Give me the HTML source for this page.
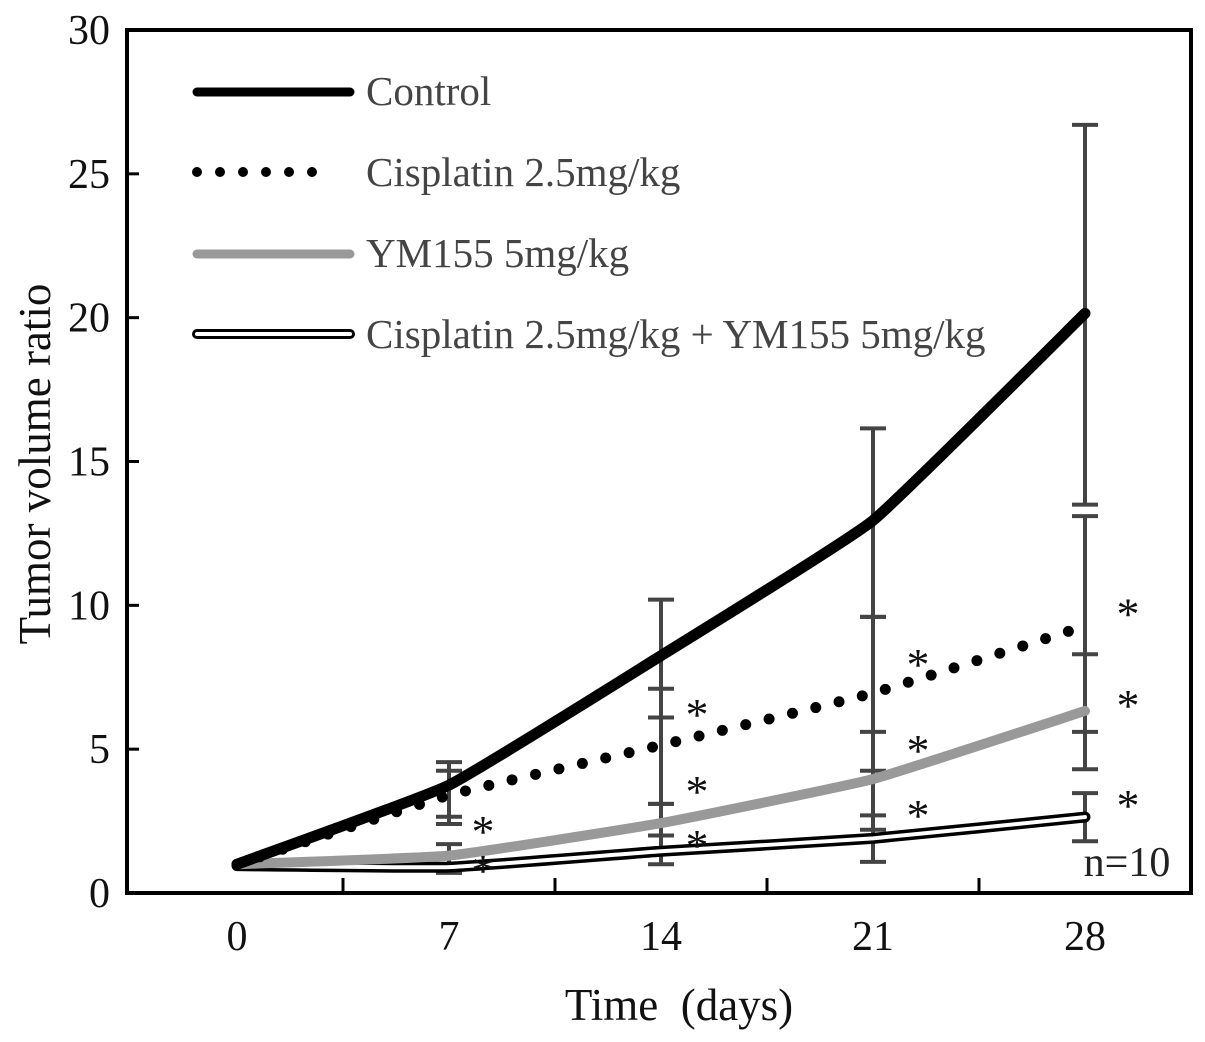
<!DOCTYPE html>
<html><head><meta charset="utf-8"><style>
body{margin:0;background:#fff}
svg{display:block;font-family:"Liberation Serif",serif}
</style></head><body>
<svg id="chart" width="1205" height="1042" viewBox="0 0 1205 1042">
<rect x="127" y="30" width="1064" height="863" fill="none" stroke="#000" stroke-width="4"/>
<g id="axes"></g>
<g id="series"></g>
<g id="legend">
 <line x1="197" y1="92" x2="350" y2="92" stroke="#000" stroke-width="9" stroke-linecap="round"/>
 <text x="366" y="105" font-size="41" fill="#444">Control</text>
 <line x1="197" y1="172" x2="335" y2="172" stroke="#000" stroke-width="10" stroke-linecap="round" stroke-dasharray="0 23"/>
 <text x="366" y="186" font-size="41" fill="#444">Cisplatin 2.5mg/kg</text>
 <line x1="197" y1="254" x2="350" y2="254" stroke="#999" stroke-width="9" stroke-linecap="round"/>
 <text x="366" y="267" font-size="41" fill="#444">YM155 5mg/kg</text>
 <line x1="197" y1="334" x2="350" y2="334" stroke="#000" stroke-width="10" stroke-linecap="round"/>
 <line x1="197" y1="334" x2="350" y2="334" stroke="#fff" stroke-width="4" stroke-linecap="round"/>
 <text x="366" y="348" font-size="41" fill="#444">Cisplatin 2.5mg/kg + YM155 5mg/kg</text>
</g>
<text x="1127" y="876" text-anchor="middle" font-size="42" fill="#222">n=10</text>
<text transform="translate(50,464) rotate(-90)" text-anchor="middle" font-size="45" fill="#111">Tumor volume ratio</text>
<text x="679" y="1020" text-anchor="middle" font-size="45" fill="#111" xml:space="preserve">Time  (days)</text>
</svg>
<script>
const days=[0,7,14,21,28];
const yTicks=[0,5,10,15,20,25,30];
const control=[1,3.75,8.25,12.95,20.15];
const controlHi=[1,4.55,10.2,16.15,26.7];
const controlLo=[1,2.65,6.1,9.6,13.5];
const cis=[1,3.4,5.14,6.95,9.28];
const cisHi=[1,4.25,7.1,9.6,13.1];
const cisLo=[1,2.4,3.1,4.25,5.6];
const ym=[1,1.3,2.43,3.96,6.33];
const ymHi=[1,1.7,3.1,5.6,8.3];
const ymLo=[1,0.9,1.5,2.2,4.3];
const combo=[0.95,0.9,1.45,1.9,2.64];
const comboHi=[0.95,0.9,2.0,2.7,3.47];
const comboLo=[0.95,0.7,1.0,1.08,1.8];
const starsCis=[null,null,6.5,8.24,10.0];
const starsYm=[null,2.43,3.82,5.25,6.81];
const starsCombo=[null,1.08,1.95,2.99,3.34];
const NS="http://www.w3.org/2000/svg";
const xS=d=>237+(d/7)*212;
const yS=v=>893-v*(863/30);
function mk(t,a,p){const e=document.createElementNS(NS,t);for(const k in a)e.setAttribute(k,a[k]);(p||document.getElementById('series')).appendChild(e);return e;}
const ax=document.getElementById('axes');
yTicks.forEach(v=>{
 const l=mk('line',{x1:127,x2:139,y1:yS(v),y2:yS(v),stroke:'#000','stroke-width':3},ax);
 
 
 const t=mk('text',{x:110,y:yS(v)+14,'text-anchor':'end','font-size':42,fill:'#111'},ax);
 t.textContent=v;
 
 
});
days.forEach((d,i)=>{
 const t=mk('text',{x:xS(d),y:950,'text-anchor':'middle','font-size':42,fill:'#111'},ax);
 t.textContent=d;
 
 
 if(i<days.length-1){
  const l=mk('line',{x1:xS(d+3.5),x2:xS(d+3.5),y1:893,y2:878,stroke:'#000','stroke-width':3},ax);
  
  
 }
});
function path(vals){
 const p=vals.map((v,i)=>[xS(days[i]),yS(v)]);
 let d=`M${p[0][0]},${p[0][1]}`;
 for(let i=0;i<p.length-1;i++){
  const p0=p[i-1]||p[i],p1=p[i],p2=p[i+1],p3=p[i+2]||p2;const k=0.06;
  d+=` C${p1[0]+(p2[0]-p0[0])*k},${p1[1]+(p2[1]-p0[1])*k} ${p2[0]-(p3[0]-p1[0])*k},${p2[1]-(p3[1]-p1[1])*k} ${p2[0]},${p2[1]}`;
 }
 return d;
}
function errs(hi,lo,name){
 days.forEach((d,i)=>{if(i===0)return;const x=xS(d);
  const l=mk('line',{x1:x,x2:x,y1:yS(hi[i]),y2:yS(lo[i]),stroke:'#444','stroke-width':4});
  
  
  [hi[i],lo[i]].forEach(v=>{const c=mk('line',{x1:x-13,x2:x+13,y1:yS(v),y2:yS(v),stroke:'#444','stroke-width':4});
   
   });
 });
}
errs(controlHi,controlLo,'control');errs(cisHi,cisLo,'cisplatin');errs(ymHi,ymLo,'ym155');errs(comboHi,comboLo,'combo');
let e=mk('path',{d:path(combo),fill:'none',stroke:'#000','stroke-width':11,'stroke-linecap':'round'});


e=mk('path',{d:path(combo),fill:'none',stroke:'#fff','stroke-width':4,'stroke-linecap':'round'});


e=mk('path',{d:path(ym),fill:'none',stroke:'#999','stroke-width':10,'stroke-linecap':'round'});


e=mk('path',{d:path(cis),fill:'none',stroke:'#000','stroke-width':11,'stroke-linecap':'round','stroke-dasharray':'0 24'});


e=mk('path',{d:path(control),fill:'none',stroke:'#000','stroke-width':11,'stroke-linecap':'round'});


const starDx=[0,34,36,45,43];
[starsCis,starsYm,starsCombo].forEach(arr=>arr.forEach((v,i)=>{if(v===null)return;
 const t=mk('text',{x:xS(days[i])+starDx[i],y:yS(v)+24,'text-anchor':'middle','font-size':46,fill:'#111'});
 t.textContent='*';
 
 
}));
</script>
</body></html>
